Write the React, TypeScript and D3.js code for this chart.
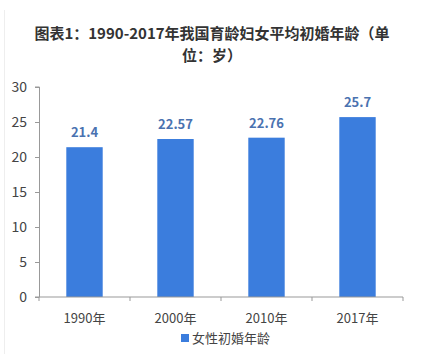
import { useRef, useEffect } from "react";
import * as d3 from "d3";

const years = ["1990年", "2000年", "2010年", "2017年"];
const ages = [21.4, 22.57, 22.76, 25.7];
const yTicks = [0, 5, 10, 15, 20, 25, 30];
const seriesName = "女性初婚年龄";

const width = 425;
const height = 354;
const margin = { top: 87, right: 22, bottom: 57, left: 39 };
const font = "'Noto Sans CJK SC', 'Noto Sans', sans-serif";

const App = () => {
  const svgRef = useRef<SVGSVGElement>(null);

  useEffect(() => {
    const svg = d3.select(svgRef.current);
    svg.selectAll("*").remove();

    svg.append("rect").attr("width", width).attr("height", height).attr("fill", "#fff");
    svg.append("line")
      .attr("x1", 4.5).attr("x2", 4.5).attr("y1", 10).attr("y2", height)
      .attr("stroke", "#eee");

    // title
    const title = svg.append("text")
      .attr("text-anchor", "middle")
      .attr("font-family", font)
      .attr("font-weight", "bold")
      .attr("font-size", 15)
      .attr("fill", "#333");
    title.append("tspan").attr("x", 212).attr("y", 39).text("图表1：1990-2017年我国育龄妇女平均初婚年龄（单");
    title.append("tspan").attr("x", 212).attr("y", 61).text("位：岁）");

    const x = d3.scaleBand()
      .domain(years)
      .range([margin.left, width - margin.right])
      .paddingInner(0.6)
      .paddingOuter(0.3);

    const y = d3.scaleLinear()
      .domain([0, 30])
      .range([height - margin.bottom, margin.top]);

    svg.selectAll("rect.bar")
      .data(ages)
      .enter()
      .append("rect")
      .attr("class", "bar")
      .attr("x", (d, i) => x(years[i])!)
      .attr("y", (d) => y(d))
      .attr("width", x.bandwidth())
      .attr("height", (d) => y(0) - y(d))
      .attr("fill", "#3b7ddd");

    svg.selectAll("text.val")
      .data(ages)
      .enter()
      .append("text")
      .attr("class", "val")
      .attr("x", (d, i) => x(years[i])! + x.bandwidth() / 2)
      .attr("y", (d) => y(d) - 10)
      .attr("text-anchor", "middle")
      .attr("font-family", font)
      .attr("font-weight", "bold")
      .attr("font-size", 13)
      .attr("fill", "#4a72b0")
      .text((d) => String(d));

    // y axis
    const yAxis = svg.append("g")
      .attr("transform", `translate(${margin.left},0)`)
      .call(d3.axisLeft(y).tickValues(yTicks).tickSize(4).tickPadding(8));
    yAxis.select(".domain").attr("stroke", "#999").attr("d", `M-4,${y(30)}H0.5V${y(0)}H-4`);
    yAxis.selectAll(".tick line").attr("stroke", "#999");
    yAxis.selectAll(".tick text")
      .attr("font-family", font)
      .attr("font-size", 14)
      .attr("fill", "#444");

    // x axis
    const xg = svg.append("g").attr("transform", `translate(0,${y(0)})`);
    xg.append("line")
      .attr("x1", margin.left).attr("x2", width - margin.right)
      .attr("stroke", "#999");
    const step = x.step();
    const bounds = years.map((d) => x(d)! - (step - x.bandwidth()) / 2);
    bounds.push(width - margin.right);
    xg.selectAll("line.tk")
      .data(bounds)
      .enter()
      .append("line")
      .attr("class", "tk")
      .attr("x1", (d) => d).attr("x2", (d) => d)
      .attr("y1", 0).attr("y2", 4)
      .attr("stroke", "#999");
    xg.selectAll("text")
      .data(years)
      .enter()
      .append("text")
      .attr("x", (d) => x(d)! + x.bandwidth() / 2)
      .attr("y", 26)
      .attr("text-anchor", "middle")
      .attr("font-family", font)
      .attr("font-size", 13)
      .attr("fill", "#444")
      .text((d) => d);

    // legend
    const lg = svg.append("g").attr("transform", "translate(181,334)");
    lg.append("rect").attr("width", 8).attr("height", 8).attr("fill", "#3b7ddd");
    lg.append("text")
      .attr("x", 11).attr("y", 9)
      .attr("font-family", font)
      .attr("font-size", 13)
      .attr("fill", "#444")
      .text(seriesName);
  }, []);

  return (
    <div style={{ position: "fixed", top: 0, left: 0 }}>
      <svg ref={svgRef} width={width} height={height}></svg>
    </div>
  );
};

export default App;
